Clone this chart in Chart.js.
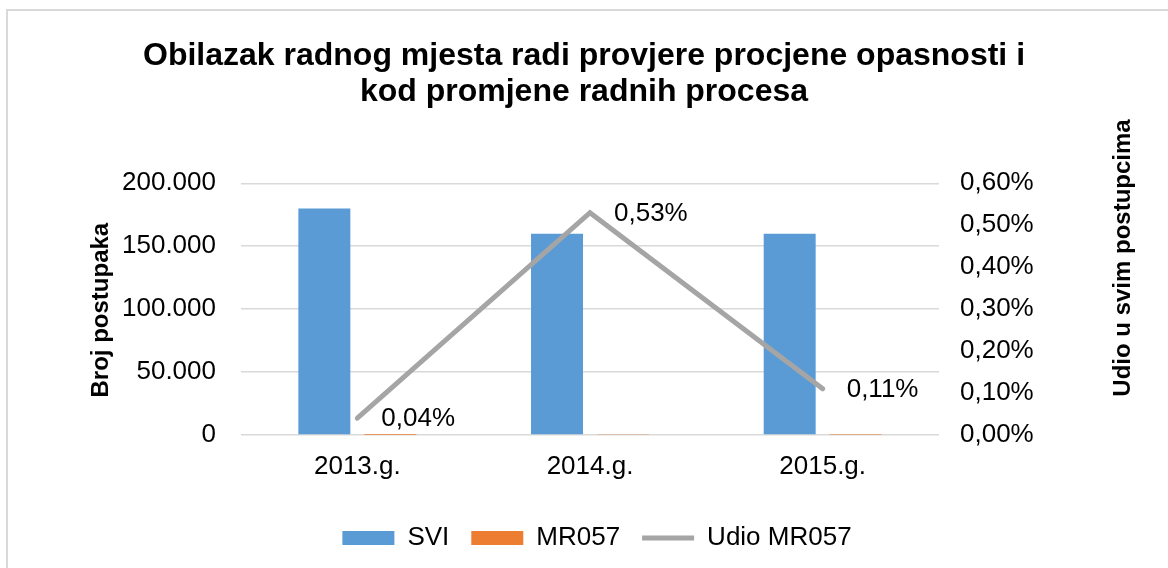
<!DOCTYPE html>
<html>
<head>
<meta charset="utf-8">
<script src="https://cdn.jsdelivr.net/npm/chart.js@4.4.1/dist/chart.umd.min.js"></script>
<style>
  html, body { margin: 0; padding: 0; background: #fff; }
  body { width: 1168px; height: 568px; overflow: hidden; position: relative; }
  #frame { position: absolute; left: 6px; top: 9px; width: 1200px; height: 600px; border: 2px solid #d9d9d9; box-sizing: border-box; }
  #wrap { position: absolute; left: 0; top: 0; width: 1168px; height: 568px; }
</style>
</head>
<body>
<div id="frame"></div>
<div id="wrap"><canvas id="c" width="1168" height="568"></canvas></div>
<script>
const categories = ['2013.g.', '2014.g.', '2015.g.'];
const sviValues = [180000, 160000, 160000];
const mr057Values = [72, 848, 176];
const udioValues = [0.04, 0.53, 0.11];
const leftTicks = [0, 50000, 100000, 150000, 200000];
const rightTicks = [0, 0.1, 0.2, 0.3, 0.4, 0.5, 0.6];
const titleLines = ['Obilazak radnog mjesta radi provjere procjene opasnosti i', 'kod promjene radnih procesa'];
const leftAxisTitle = 'Broj postupaka';
const rightAxisTitle = 'Udio u svim postupcima';

const FONT = "'Liberation Sans', Arial, sans-serif";

function fmtThousands(v) {
  return String(Math.round(v)).replace(/\B(?=(\d{3})+(?!\d))/g, '.');
}
function fmtPct(v) {
  return v.toFixed(2).replace('.', ',') + '%';
}

const axisTitlesPlugin = {
  id: 'axisTitles',
  afterDraw(chart) {
    const ctx = chart.ctx;
    ctx.save();
    ctx.fillStyle = '#000';
    ctx.font = 'bold 24px ' + FONT;
    ctx.textAlign = 'center';
    ctx.textBaseline = 'middle';
    ctx.save();
    ctx.translate(101, chart.chartArea.top + (chart.chartArea.bottom - chart.chartArea.top) / 2 + 1);
    ctx.rotate(-Math.PI / 2);
    ctx.fillText(leftAxisTitle, 0, 0);
    ctx.restore();
    ctx.save();
    ctx.translate(1123, 258);
    ctx.rotate(-Math.PI / 2);
    ctx.fillText(rightAxisTitle, 0, 0);
    ctx.restore();
    ctx.restore();
  }
};

const pointLabelsPlugin = {
  id: 'pointLabels',
  afterDatasetsDraw(chart) {
    const meta = chart.getDatasetMeta(2);
    const ctx = chart.ctx;
    ctx.save();
    ctx.fillStyle = '#000';
    ctx.font = '26px ' + FONT;
    ctx.textAlign = 'left';
    ctx.textBaseline = 'middle';
    meta.data.forEach((el, i) => {
      ctx.fillText(fmtPct(udioValues[i]), el.x + 24, el.y + 1);
    });
    ctx.restore();
  }
};

const legendShiftPlugin = {
  id: 'legendShift',
  afterLayout(chart) {
    if (chart.legend) {
      chart.legend.left += 13;
      chart.legend.right += 13;
    }
  }
};

new Chart(document.getElementById('c'), {
  data: {
    labels: categories,
    datasets: [
      {
        type: 'bar', label: 'SVI', data: sviValues, yAxisID: 'y',
        backgroundColor: '#5B9BD5', borderWidth: 0, pointStyle: 'rect',
        categoryPercentage: 0.567, barPercentage: 0.788, order: 1
      },
      {
        type: 'bar', label: 'MR057', data: mr057Values, yAxisID: 'y',
        backgroundColor: '#ED7D31', borderWidth: 0, pointStyle: 'rect',
        categoryPercentage: 0.567, barPercentage: 0.788, order: 1
      },
      {
        type: 'line', label: 'Udio MR057', data: udioValues, yAxisID: 'y1',
        borderColor: '#A5A5A5', backgroundColor: '#A5A5A5', borderWidth: 5,
        borderCapStyle: 'round', borderJoinStyle: 'miter',
        pointRadius: 0, pointHoverRadius: 0, pointStyle: 'line', tension: 0, order: 0
      }
    ]
  },
  options: {
    responsive: false,
    animation: false,
    devicePixelRatio: 1,
    layout: { padding: { left: 0, right: 0, top: 0, bottom: 7 } },
    plugins: {
      title: {
        display: true,
        text: titleLines,
        color: '#000',
        font: { family: FONT, size: 32, weight: 'bold', lineHeight: 1.13 },
        padding: { top: 38, bottom: 73 }
      },
      legend: {
        position: 'bottom',
        labels: {
          usePointStyle: true,
          pointStyleWidth: 52,
          boxWidth: 52,
          boxHeight: 14,
          padding: 22,
          color: '#000',
          font: { family: FONT, size: 26 },
          sort: (a, b) => a.datasetIndex - b.datasetIndex
        }
      },
      tooltip: { enabled: false }
    },
    scales: {
      x: {
        grid: { display: false, drawTicks: false },
        border: { display: false },
        ticks: { color: '#000', font: { family: FONT, size: 26 }, padding: 16 },
        afterFit(scale) { scale.height = 68; }
      },
      y: {
        position: 'left',
        min: 0, max: 200000,
        afterBuildTicks(scale) { scale.ticks = leftTicks.map(v => ({ value: v })); },
        grid: { color: '#d9d9d9', lineWidth: 1.5, drawTicks: false },
        border: { display: false },
        ticks: { color: '#000', font: { family: FONT, size: 26 }, padding: 25, callback: v => fmtThousands(v) },
        afterFit(scale) { scale.width = 241; }
      },
      y1: {
        position: 'right',
        min: 0, max: 0.6,
        afterBuildTicks(scale) { scale.ticks = rightTicks.map(v => ({ value: v })); },
        grid: { display: false, drawTicks: false },
        border: { display: false },
        ticks: { color: '#000', font: { family: FONT, size: 26 }, padding: 21, callback: v => fmtPct(v) },
        afterFit(scale) { scale.width = 229; }
      }
    }
  },
  plugins: [axisTitlesPlugin, pointLabelsPlugin, legendShiftPlugin]
});
</script>
</body>
</html>
